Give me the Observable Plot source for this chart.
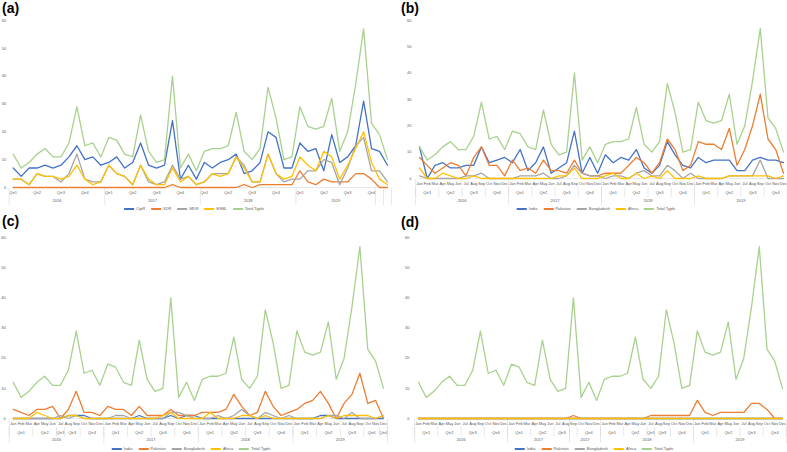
<!DOCTYPE html>
<html>
<head>
<meta charset="utf-8">
<script src="https://cdn.jsdelivr.net/npm/d3@7"></script>
<script src="https://cdn.jsdelivr.net/npm/@observablehq/plot@0.6"></script>
<style>
  html, body { margin: 0; padding: 0; background: #fff; }
  body { font-family: "Liberation Sans", Arial, sans-serif; }
  #root { position: relative; width: 787px; height: 452px; overflow: hidden; background: #fff; }
  .panel { position: absolute; }
  .panel svg { overflow: visible; }
  .tag { position: absolute; font-weight: bold; font-size: 14px; color: #000; line-height: 1; }
  .legend { position: absolute; display: flex; align-items: center; font-size: 4px; color: #595959;
            white-space: nowrap; transform: translateX(-50%); height: 6px; line-height: 6px; }
  .legend .item { display: flex; align-items: center; margin-right: 6px; }
  .legend .sw { display: inline-block; width: 10px; height: 1.3px; margin-right: 2px; }
</style>
</head>
<body>
<div id="root"></div>
<script>
// ---------- data ----------
const monthNames = ["Jan","Feb","Mar","Apr","May","Jun","Jul","Aug","Sep","Oct","Nov","Dec"];
const yearNames = ["2016","2017","2018","2019"];
const yTicks = [0, 10, 20, 30, 40, 50, 60];

const totalTyphi = [12,7,9,12,14,11,11,16,29,15,16,11, 18,17,12,11,26,13,9,10,40,7,12,6,
                    13,14,14,15,27,13,10,14,36,25,10,11, 29,22,21,22,32,13,20,37,57,23,19,10];

// (a) resistance profiles
const cipR = [7,4,7,7,8,7,8,11,15,10,11,8, 9,11,7,9,16,8,7,8,24,3,8,3,
              9,7,9,10,12,5,6,9,20,18,7,7, 16,13,14,6,19,9,11,15,31,14,13,8];
const xdr  = [0,0,0,0,0,0,0,0,0,0,0,0, 0,0,0,0,0,0,0,0,1,0,0,0,
              0,0,0,0,0,1,0,1,1,1,1,1, 6,2,1,3,2,2,2,5,5,3,0,0];
const mdr  = [3,3,1,5,4,4,2,5,12,3,2,2, 8,5,4,1,8,2,1,2,8,3,4,1,
              2,5,5,5,11,8,2,2,12,5,2,3, 3,6,6,10,9,1,7,15,18,6,6,2];
const esbl = [3,3,1,5,4,4,3,4,8,3,1,2, 8,5,4,1,8,3,1,1,7,2,4,1,
              2,5,4,5,11,7,2,2,12,5,3,4, 11,8,6,13,11,3,8,14,20,9,3,1];

// (b) by country
const indiaB      = [12,0,5,6,4,4,5,5,12,6,7,8, 6,11,3,6,12,2,4,6,18,2,8,2,
                     9,6,8,7,11,4,2,5,14,9,5,4, 8,6,7,7,7,3,3,7,8,7,7,6];
const pakistanB   = [8,5,2,4,6,5,1,8,12,5,5,1, 7,3,4,2,7,3,3,2,7,2,1,1,
                     2,2,2,5,8,6,2,6,15,11,3,5, 14,13,13,11,19,5,11,20,32,15,11,2];
const bangladeshB = [1,0,0,0,0,0,1,1,2,0,0,0, 0,1,1,1,2,0,0,1,5,2,1,1,
                     0,1,1,0,2,3,1,1,5,3,0,2, 0,0,0,0,1,1,1,1,7,0,0,0];
const africaB     = [4,0,0,2,1,0,0,1,0,0,0,0, 0,0,0,0,0,0,1,1,4,0,0,0,
                     1,2,0,0,2,0,1,0,3,0,0,0, 1,0,0,0,1,1,1,1,1,1,0,1];

// (c) by country
const indiaC      = [0,0,0,0,0,0,0,1,1,1,0,0, 0,0,0,0,1,0,0,0,1,0,1,1,
                     0,0,0,0,0,0,0,0,0,0,0,0, 0,0,0,1,1,0,0,0,0,0,0,0];
const pakistanC   = [3,2,1,3,3,4,0,3,9,2,2,1, 4,3,3,1,4,1,1,1,3,1,1,1,
                     2,2,2,3,8,4,1,2,9,4,1,2, 3,5,6,9,5,0,5,8,15,5,6,0];
const bangladeshC = [0,0,0,0,0,0,1,0,1,0,0,0, 0,1,1,0,0,0,0,0,2,2,1,0,
                     0,0,1,0,1,3,1,0,2,1,0,1, 0,0,0,0,1,1,0,2,0,0,0,1];
const africaC     = [0,0,0,2,1,0,0,1,1,0,0,0, 0,0,0,0,0,0,0,1,2,0,0,0,
                     0,2,0,0,0,1,1,0,1,0,0,0, 0,0,0,0,1,0,1,1,1,1,0,1];

// (d) by country
const indiaD      = [0,0,0,0,0,0,0,0,0,0,0,0, 0,0,0,0,0,0,0,0,0,0,0,0,
                     0,0,0,0,0,0,0,0,0,0,0,0, 0,0,0,0,0,0,0,0,0,0,0,0];
const pakistanD   = [0,0,0,0,0,0,0,0,0,0,0,0, 0,0,0,0,0,0,0,0,1,0,0,0,
                     0,0,0,0,0,0,1,1,1,1,1,1, 6,2,1,2,2,2,2,5,5,3,0,0];
const bangladeshD = [0,0,0,0,0,0,0,0,0,0,0,0, 0,0,0,0,0,0,0,0,0,0,0,0,
                     0,0,0,0,0,0,0,0,0,0,0,0, 0,0,0,0,0,0,0,0,0,0,0,0];
const africaD     = [0,0,0,0,0,0,0,0,0,0,0,0, 0,0,0,0,0,0,0,0,0,0,0,0,
                     0,0,0,0,0,0,0,0,0,0,0,0, 0,0,0,0,0,0,0,0,0,0,0,0];

const namesA = ["CipR","XDR","MDR","ESBL","Total Typhi"];
const namesCountry = ["India","Pakistan","Bangladesh","Africa","Total Typhi"];
const colors = ["#4472C4","#ED7D31","#A5A5A5","#FFC000","#A9D18E"];

// category-axis groups: [label, number of months]
const stdQuarters = ["Qtr1","Qtr2","Qtr3","Qtr4"];
const quartersA = yearNames.flatMap(() => stdQuarters.map(q => [q, 3]));
const yearsA = [["2016",12],["2017",12],["2018",12],["2019",10],["",1],["",1]];
const quartersB = yearNames.flatMap(() => stdQuarters.map(q => [q, 3]));
const yearsB = yearNames.map(y => [y, 12]);
const quartersC = [["Qtr1",3],["Qtr2",3],["Qtr3",1],["Qtr3",2],["Qtr4",3],
                   ["Qtr1",3],["Qtr2",3],["Qtr3",3],["Qtr4",3],
                   ["Qtr1",3],["Qtr2",3],["Qtr3",3],["Qtr4",3],
                   ["Qtr1",3],["Qtr2",3],["Qtr3",3],["Qtr4",2],["Qtr4",1]];
const yearsC = yearNames.map(y => [y, 12]);
const quartersD = [["Qtr1",3],["Qtr2",3],["Qtr3",3],["Qtr4",3],
                   ["Qtr1",3],["Qtr2",3],["Qtr3",2],["",1],["Qtr4",3],
                   ["Qtr1",3],["Qtr2",3],["Qtr3",1],["Qtr3",2],["Qtr4",3],
                   ["Qtr1",3],["Qtr2",3],["Qtr3",3],["Qtr4",3]];
const yearsD = [["2016",12],["2017",8],["2017",4],["2018",12],["2019",12]];

// ---------- drawing ----------
const root = document.getElementById("root");
const monthLabels = yearNames.flatMap(() => monthNames);

function groups(list) {
  let start = 0;
  return list.map(([label, size]) => {
    const g = {label, start, size, center: start + (size - 1) / 2};
    start += size;
    return g;
  });
}

function panel(cfg) {
  const n = totalTyphi.length;
  const seriesList = [...cfg.values, totalTyphi];
  const rows = seriesList.flatMap((vals, k) => vals.map((v, i) => ({i, v, s: cfg.names[k]})));
  const plotH = cfg.height - cfg.mt - cfg.mb;
  const below = px => -px * 60 / plotH;
  const q = groups(cfg.quarters);
  const yg = groups(cfg.years);
  const qBounds = [...q.map(d => d.start - 0.5), n - 0.5];
  const yBounds = [...yg.map(d => d.start - 0.5), n - 0.5];
  const txt = {fontSize: 4, fill: "#595959"};
  const marks = [];
  if (cfg.monthRow != null) {
    marks.push(Plot.text(monthLabels, {x: (d, i) => i, y: below(cfg.monthRow), text: d => d, ...txt}));
  }
  marks.push(Plot.text(q.filter(d => d.label), {x: cfg.qtrAtStart ? "start" : "center", y: below(cfg.qRow), text: "label", ...txt}));
  marks.push(Plot.text(yg.filter(d => d.label), {x: "center", y: below(cfg.yRow), text: "label", ...txt}));
  if (cfg.qSep) {
    marks.push(Plot.ruleX(qBounds, {x: d => d, y1: below(cfg.sepTop), y2: below(cfg.qSep), stroke: "#d9d9d9", strokeWidth: 0.6}));
  }
  marks.push(Plot.ruleX(yBounds, {x: d => d, y1: below(cfg.sepTop0), y2: below(cfg.ySep), stroke: "#d9d9d9", strokeWidth: 0.6}));
  marks.push(Plot.ruleY([0], {stroke: "#d9d9d9", strokeWidth: 0.6}));
  marks.push(Plot.line(rows, {x: "i", y: "v", z: "s", stroke: "s", strokeWidth: 1.3, strokeLinejoin: "round"}));

  const chart = Plot.plot({
    width: cfg.width, height: cfg.height,
    marginLeft: cfg.ml, marginRight: cfg.mr, marginTop: cfg.mt, marginBottom: cfg.mb,
    style: {background: "transparent", color: "#595959", fontSize: "4px",
            fontFamily: "'Liberation Sans', Arial, sans-serif", overflow: "visible"},
    x: {domain: [0, n - 1], axis: null},
    y: {domain: [0, 60], ticks: yTicks, tickSize: 0, tickPadding: cfg.tp, label: null},
    color: {domain: cfg.names, range: colors},
    marks
  });
  const wrap = document.createElement("div");
  wrap.className = "panel";
  wrap.style.left = cfg.left + "px";
  wrap.style.top = cfg.top + "px";
  wrap.appendChild(chart);
  root.appendChild(wrap);

  const tag = document.createElement("div");
  tag.className = "tag";
  tag.textContent = cfg.tag;
  tag.style.left = cfg.tagX + "px";
  tag.style.top = cfg.tagY + "px";
  root.appendChild(tag);

  const lg = document.createElement("div");
  lg.className = "legend";
  lg.style.left = cfg.legX + "px";
  lg.style.top = (cfg.legY - 3) + "px";
  cfg.names.forEach((nm, k) => {
    const it = document.createElement("span");
    it.className = "item";
    const sw = document.createElement("span");
    sw.className = "sw";
    sw.style.background = colors[k];
    const t = document.createElement("span");
    t.textContent = nm;
    it.appendChild(sw); it.appendChild(t);
    lg.appendChild(it);
  });
  root.appendChild(lg);
}

panel({tag: "(a)", tagX: 2, tagY: 1, left: 0, top: 0, width: 393, height: 226,
       ml: 12.7, mr: 6, mt: 20, mb: 39, tp: 7,
       values: [cipR, xdr, mdr, esbl], names: namesA,
       quarters: quartersA, years: yearsA, qtrAtStart: true,
       monthRow: null, qRow: 5, yRow: 13, qSep: null, sepTop: 1, sepTop0: 1, ySep: 18,
       legX: 197, legY: 209});

panel({tag: "(b)", tagX: 401, tagY: 1, left: 393, top: 0, width: 394, height: 226,
       ml: 26, mr: 4, mt: 20, mb: 48, tp: 8,
       values: [indiaB, pakistanB, bangladeshB, africaB], names: namesCountry,
       quarters: quartersB, years: yearsB, qtrAtStart: false,
       monthRow: 5, qRow: 14, yRow: 22, sepTop: 9, qSep: 19, sepTop0: 1, ySep: 27,
       legX: 599, legY: 209});

panel({tag: "(c)", tagX: 2, tagY: 214, left: 0, top: 226, width: 393, height: 226,
       ml: 12.7, mr: 10, mt: 11, mb: 34, tp: 7.5,
       values: [indiaC, pakistanC, bangladeshC, africaC], names: namesCountry,
       quarters: quartersC, years: yearsC, qtrAtStart: false,
       monthRow: 5, qRow: 14.7, yRow: 21.3, sepTop: 9, qSep: 18.5, sepTop0: 1, ySep: 25,
       legX: 194, legY: 449});

panel({tag: "(d)", tagX: 401, tagY: 215, left: 393, top: 226, width: 394, height: 226,
       ml: 25, mr: 5, mt: 11, mb: 34, tp: 9,
       values: [indiaD, pakistanD, bangladeshD, africaD], names: namesCountry,
       quarters: quartersD, years: yearsD, qtrAtStart: false,
       monthRow: 5, qRow: 14, yRow: 21, sepTop: 9, qSep: 18.5, sepTop0: 1, ySep: 25,
       legX: 597, legY: 449});
</script>
</body>
</html>
